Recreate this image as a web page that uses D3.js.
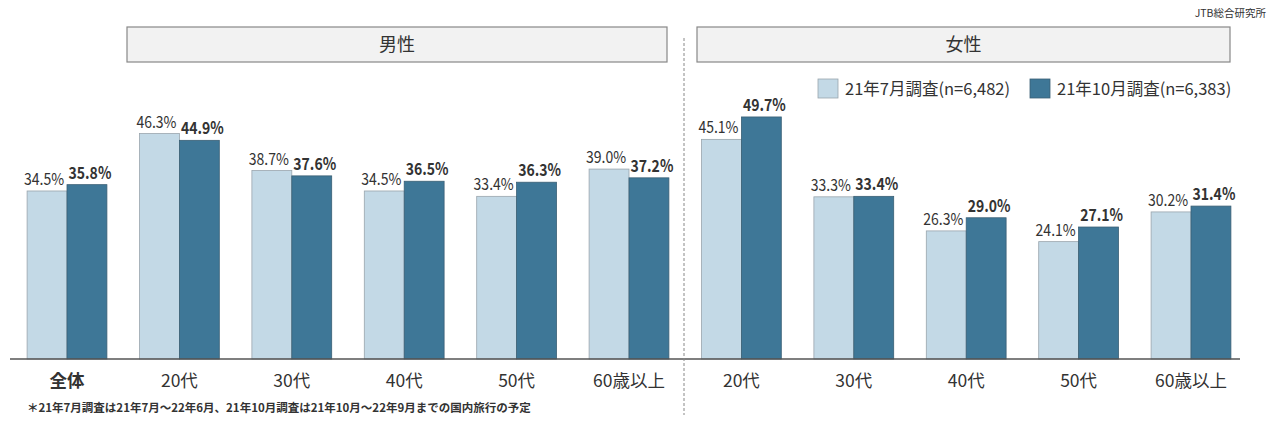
<!DOCTYPE html>
<html><head><meta charset="utf-8">
<script src="https://cdn.jsdelivr.net/npm/d3@7"></script>
<style>body{margin:0;background:#fff}svg{display:block;font-family:"Noto Sans CJK JP","Noto Sans",sans-serif}</style>
</head><body><svg id="c" width="1280" height="425"></svg>
<script>
const categories = ["全体","20代","30代","40代","50代","60歳以上","20代","30代","40代","50代","60歳以上"];
const groups = ["男性","男性","男性","男性","男性","男性","女性","女性","女性","女性","女性"];
const july = [34.5,46.3,38.7,34.5,33.4,39.0,45.1,33.3,26.3,24.1,30.2];
const october = [35.8,44.9,37.6,36.5,36.3,37.2,49.7,33.4,29.0,27.1,31.4];
const seriesNames = ["21年7月調査(n=6,482)","21年10月調査(n=6,383)"];
const colors = ["#c3d9e6","#3e7797"];
const strokes = ["#9aa5ad","#3a5f75"];

const svg = d3.select("#c");
const idx = d3.range(categories.length);
const x = d3.scaleBand().domain(idx).range([10.8,1247.2]).paddingInner(0.29).paddingOuter(0.145);
const xs = d3.scaleBand().domain([0,1]).range([0,x.bandwidth()]);
const y = d3.scaleLinear().domain([0,50]).range([359,115.5]);

const data = [];
idx.forEach(i=>{ data.push({i,s:0,v:july[i]}); data.push({i,s:1,v:october[i]}); });

svg.append("g").selectAll("rect").data(data).join("rect")
  .attr("x",d=>x(d.i)+xs(d.s)).attr("width",xs.bandwidth())
  .attr("y",d=>y(d.v)).attr("height",d=>y(0)-y(d.v))
  .attr("fill",d=>colors[d.s]).attr("stroke",d=>strokes[d.s]).attr("stroke-width",0.8);

svg.append("g").selectAll("text").data(data).join("text")
  .attr("transform",d=>`translate(${x(d.i)+xs(d.s)+xs.bandwidth()/2+(d.s===0?-3:3)},${y(d.v)-6}) scale(0.85,1)`)
  .attr("text-anchor","middle").attr("font-size",16.5)
  .attr("font-weight",d=>d.s===1?"bold":"normal")
  .attr("fill","#333")
  .text(d=>d.v.toFixed(1)+"%");

// baseline
svg.append("line").attr("x1",10).attr("x2",1240).attr("y1",y(0)).attr("y2",y(0)).attr("stroke","#555").attr("stroke-width",1.5);

// category labels
svg.append("g").selectAll("text").data(idx).join("text")
  .attr("x",i=>x(i)+x.bandwidth()/2).attr("y",387)
  .attr("text-anchor","middle").attr("font-size",17.5).attr("fill","#333")
  .attr("font-weight",i=>i===0?"bold":"normal")
  .text(i=>categories[i]);

// divider
svg.append("line").attr("x1",684).attr("x2",684).attr("y1",38).attr("y2",415)
  .attr("stroke","#888").attr("stroke-dasharray","3,2").attr("stroke-width",1);

// group headers
const hdr = [{name:"男性",x0:127,x1:667},{name:"女性",x0:697,x1:1230}];
hdr.forEach(h=>{
  svg.append("rect").attr("x",h.x0).attr("y",27).attr("width",h.x1-h.x0).attr("height",35)
    .attr("fill","#f2f2f2").attr("stroke","#888").attr("stroke-width",1.2);
  svg.append("text").attr("x",(h.x0+h.x1)/2).attr("y",51).attr("text-anchor","middle")
    .attr("font-size",18).attr("fill","#333").text(h.name);
});

// legend
const leg = [{x:818,tx:845},{x:1030,tx:1057}];
leg.forEach((l,k)=>{
  svg.append("rect").attr("x",l.x).attr("y",79).attr("width",20).attr("height",19)
    .attr("fill",colors[k]).attr("stroke",strokes[k]).attr("stroke-width",0.8);
  svg.append("text").attr("x",l.tx).attr("y",95).attr("font-size",16.5).attr("fill","#333").text(seriesNames[k]);
});

svg.append("text").attr("x",1266).attr("y",17).attr("text-anchor","end").attr("font-size",10.5).attr("fill","#333").text("JTB総合研究所");
svg.append("text").attr("x",27).attr("y",412).attr("font-size",11.5).attr("font-weight","bold").attr("fill","#333")
  .text("＊21年7月調査は21年7月～22年6月、21年10月調査は21年10月～22年9月までの国内旅行の予定");
</script></body></html>
